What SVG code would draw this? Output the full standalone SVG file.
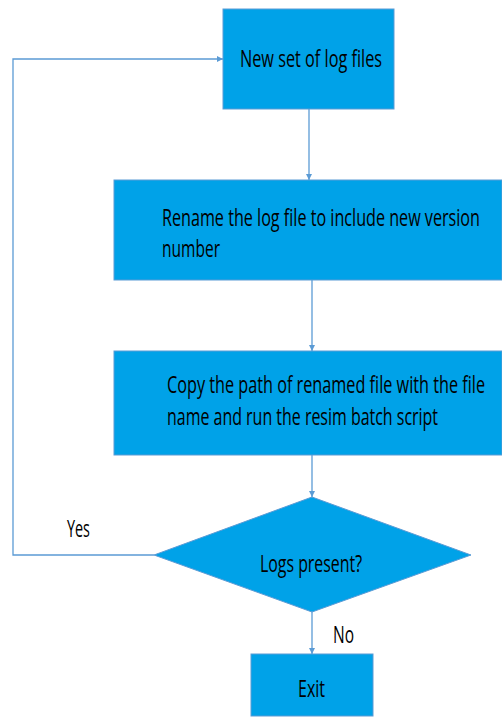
<svg xmlns="http://www.w3.org/2000/svg" width="502" height="718" viewBox="0 0 502 718">
  <style>
    .box { fill: #00a2e8; stroke: #5b9bd5; stroke-width: 1; }
    .lbl { font-family: "Open Sans", "Liberation Sans", sans-serif; font-size: 23px; fill: #000; }
    .edge { fill: none; stroke: #5b9bd5; stroke-width: 1.3; }
  </style>
  <defs>
    <marker id="arrow" viewBox="0 0 10 10" refX="10" refY="5" markerWidth="6" markerHeight="6" markerUnits="userSpaceOnUse" orient="auto">
      <path d="M0,0 L10,5 L0,10 z" fill="#5b9bd5"/>
    </marker>
  </defs>
  <rect width="502" height="718" fill="#fff"/>

  <!-- labels use a narrow horizontal scale (0.6) to get a condensed face -->
  <g id="connectors">
    <path class="edge" d="M309,109 V180" marker-end="url(#arrow)"/>
    <path class="edge" d="M312,280 V351" marker-end="url(#arrow)"/>
    <path class="edge" d="M312,455 V497" marker-end="url(#arrow)"/>
    <path class="edge" d="M312,612 V654" marker-end="url(#arrow)"/>
    <path class="edge" d="M154,555 H13 V59 H223" marker-end="url(#arrow)"/>
    <text class="lbl" transform="translate(67,537) scale(0.6,1)" textLength="38.3" lengthAdjust="spacingAndGlyphs">Yes</text>
    <text class="lbl" transform="translate(333,643) scale(0.6,1)" textLength="35" lengthAdjust="spacingAndGlyphs">No</text>
  </g>

  <g id="node-new-logs">
    <rect class="box" x="223" y="9" width="171" height="100"/>
    <text class="lbl" transform="translate(240,67) scale(0.6,1)" textLength="236.7" lengthAdjust="spacingAndGlyphs">New set of log files</text>
  </g>

  <g id="node-rename">
    <rect class="box" x="114" y="180" width="388" height="100"/>
    <text class="lbl" transform="translate(162,226) scale(0.6,1)" textLength="530" lengthAdjust="spacingAndGlyphs">Rename the log file to include new version</text>
    <text class="lbl" transform="translate(162,257) scale(0.6,1)" textLength="96.7" lengthAdjust="spacingAndGlyphs">number</text>
  </g>

  <g id="node-run-resim">
    <rect class="box" x="114" y="351" width="388" height="104"/>
    <text class="lbl" transform="translate(167,393) scale(0.6,1)" textLength="530" lengthAdjust="spacingAndGlyphs">Copy the path of renamed file with the file</text>
    <text class="lbl" transform="translate(167,425) scale(0.6,1)" textLength="451.7" lengthAdjust="spacingAndGlyphs">name and run the resim batch script</text>
  </g>

  <g id="node-logs-present">
    <polygon class="box" points="312,497 471,555 312,612 154,555"/>
    <text class="lbl" transform="translate(260,572) scale(0.6,1)" textLength="170" lengthAdjust="spacingAndGlyphs">Logs present?</text>
  </g>

  <g id="node-exit">
    <rect class="box" x="251" y="654" width="122" height="62"/>
    <text class="lbl" transform="translate(298,697) scale(0.6,1)" textLength="45" lengthAdjust="spacingAndGlyphs">Exit</text>
  </g>
</svg>
